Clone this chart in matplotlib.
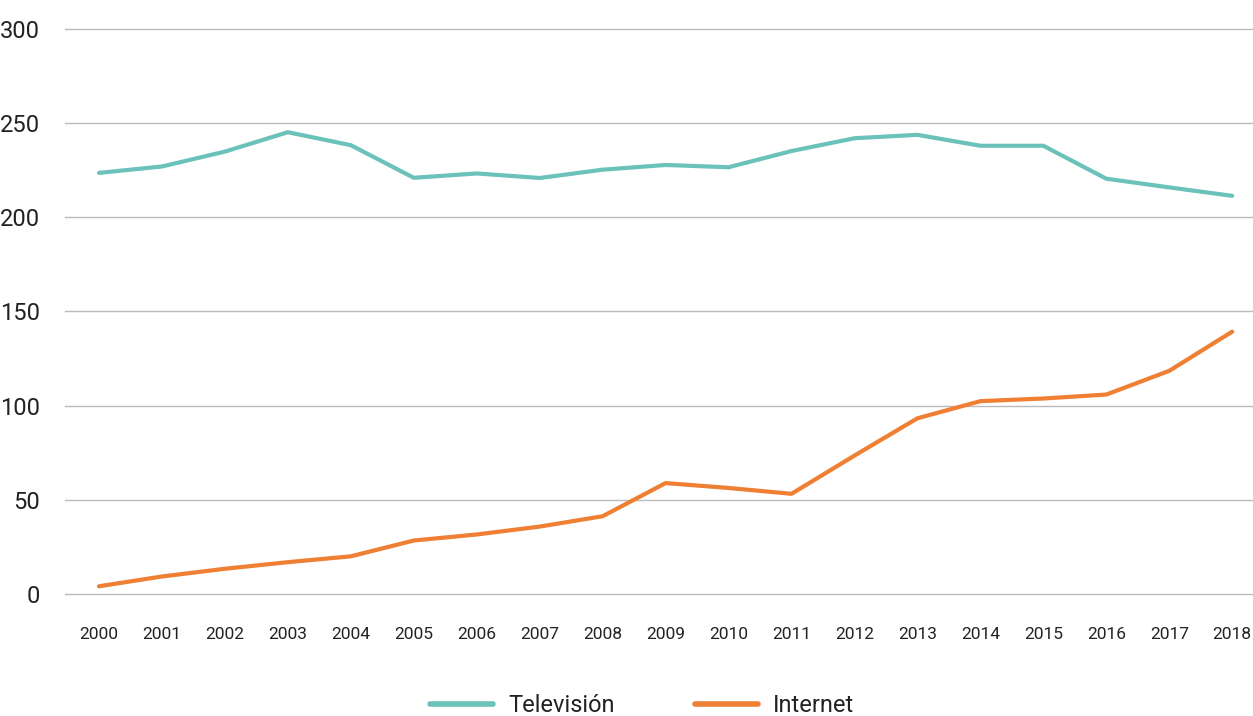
import matplotlib
matplotlib.use('Agg')
import matplotlib.pyplot as plt

years = list(range(2000, 2019))
television = [223.6, 227.0, 234.9, 245.2, 238.3, 221.0, 223.3, 220.9, 225.3, 227.8,
              226.6, 235.2, 242.0, 243.8, 238.0, 238.0, 220.5, 215.9, 211.4]
internet = [4.1, 9.3, 13.4, 16.9, 20.0, 28.4, 31.6, 35.8, 41.3, 58.9,
            56.3, 53.2, 73.5, 93.3, 102.4, 103.8, 105.9, 118.5, 139.3]
y_ticks = [0, 50, 100, 150, 200, 250, 300]

plt.rcParams['font.family'] = ['Roboto', 'DejaVu Sans']

fig = plt.figure(figsize=(12.53, 7.16), dpi=100)
ax = fig.add_axes([65 / 1253, (716 - 594) / 716, 1 - 65 / 1253, (594 - 29) / 716])

ax.plot(years, television, color='#6BC2BA', lw=3, solid_capstyle='round', label='Televisión')
ax.plot(years, internet, color='#EE7F33', lw=3, solid_capstyle='round', label='Internet')

ax.set_ylim(0, 300)
ax.set_xlim(1999.46, 2018.33)
ax.set_yticks(y_ticks)
ax.set_xticks(years)
ax.set_xticklabels([str(y) for y in years], fontsize=12.5)
for lab in ax.get_yticklabels():
    lab.set_fontsize(17)
ax.tick_params(axis='x', length=0, pad=24, colors='#222222')
ax.tick_params(axis='y', length=0, pad=18, colors='#222222')
ax.grid(axis='y', color='#BBBBBB', lw=1)
for gl in ax.get_ygridlines():
    gl.set_clip_on(False)
ax.set_axisbelow(True)
for s in ax.spines.values():
    s.set_visible(False)

leg = fig.legend(loc='center', bbox_to_anchor=(642 / 1253, 1 - 706 / 716), ncol=2, frameon=False,
                 fontsize=17, handlelength=2.67, handletextpad=0.64, columnspacing=3.4)
for line in leg.get_lines():
    line.set_linewidth(4)
for t in leg.get_texts():
    t.set_color('#222222')

fig.savefig('out.png', dpi=100)
